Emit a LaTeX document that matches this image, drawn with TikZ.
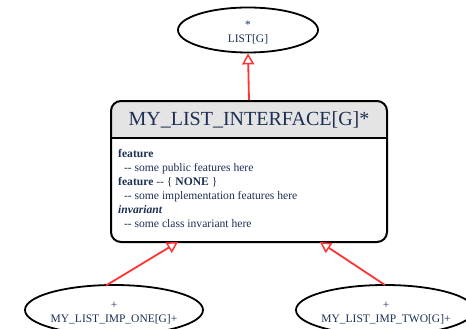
\documentclass[tikz,border=0pt]{standalone}
\usepackage{fontspec}
\setmainfont{Liberation Serif}
\usetikzlibrary{shapes.geometric,arrows.meta,calc}
\definecolor{txt}{HTML}{1C2F52}
\definecolor{inhred}{HTML}{FF3333}
\definecolor{hdr}{HTML}{E4E4E4}
\begin{document}
\begin{tikzpicture}[x=1pt,y=-1pt,
  cls/.style={draw=black,line width=1.8pt,ellipse,inner sep=0pt},
  clstext/.style={text=txt,font=\fontsize{11.5}{13}\selectfont,align=center,inner sep=0pt},
  inh/.style={draw=inhred,line width=1.8pt,-{Triangle[open,length=11pt,width=12pt,line width=1.5pt]}},
  body/.style={text=txt,font=\fontsize{11.6}{14}\selectfont,align=left,anchor=north west,inner sep=0pt}]
\useasboundingbox (0,0) rectangle (466,329);
% top ellipse
\node[cls,minimum width=140,minimum height=45] (list) at (248,30) {};
\node[clstext] (listtxt) at (248,33) {*\\[1pt]LIST[G]};
% box
\fill[hdr,rounded corners=10pt] (111,101) -- (387,101) -- (387,138) -- (111,138) -- cycle;
\fill[hdr] (111,120) rectangle (387,138);
\node[draw=black,line width=2pt,rounded corners=10pt,minimum width=276,minimum height=141,inner sep=0pt] (iface) at (249,171.5) {};
\draw[line width=1.2pt] (111,138) -- (387,138);
\node[text=txt,font=\fontsize{20}{22}\selectfont,inner sep=0pt] (title) at (249,120) {MY\_LIST\_INTERFACE[G]*};
\node[body] (feat) at (118,149.5) {\textbf{feature}\\
\ \ -{}- some public features here\\
\textbf{feature} -{}- \{ \textbf{NONE} \}\\
\ \ -{}- some implementation features here\\
\textbf{\textit{invariant}}\\
\ \ -{}- some class invariant here};
% bottom ellipses
\node[cls,minimum width=178,minimum height=50] (one) at (114,310) {};
\node[clstext] (onetxt) at (114,313) {+\\[1pt]MY\_LIST\_IMP\_ONE[G]+};
\node[cls,minimum width=178,minimum height=50] (two) at (385,310) {};
\node[clstext] (twotxt) at (386,313) {+\\[1pt]MY\_LIST\_IMP\_TWO[G]+};
% connectors
\coordinate (t1) at (178,242);
\coordinate (t2) at (320,242);
\coordinate (s1) at (106,285.5);
\coordinate (s2) at (385,285);
\draw[inh] (iface.north) -- (list.south);
\draw[inh] (s1) -- (t1);
\draw[inh] (s2) -- (t2);
\end{tikzpicture}
\end{document}
